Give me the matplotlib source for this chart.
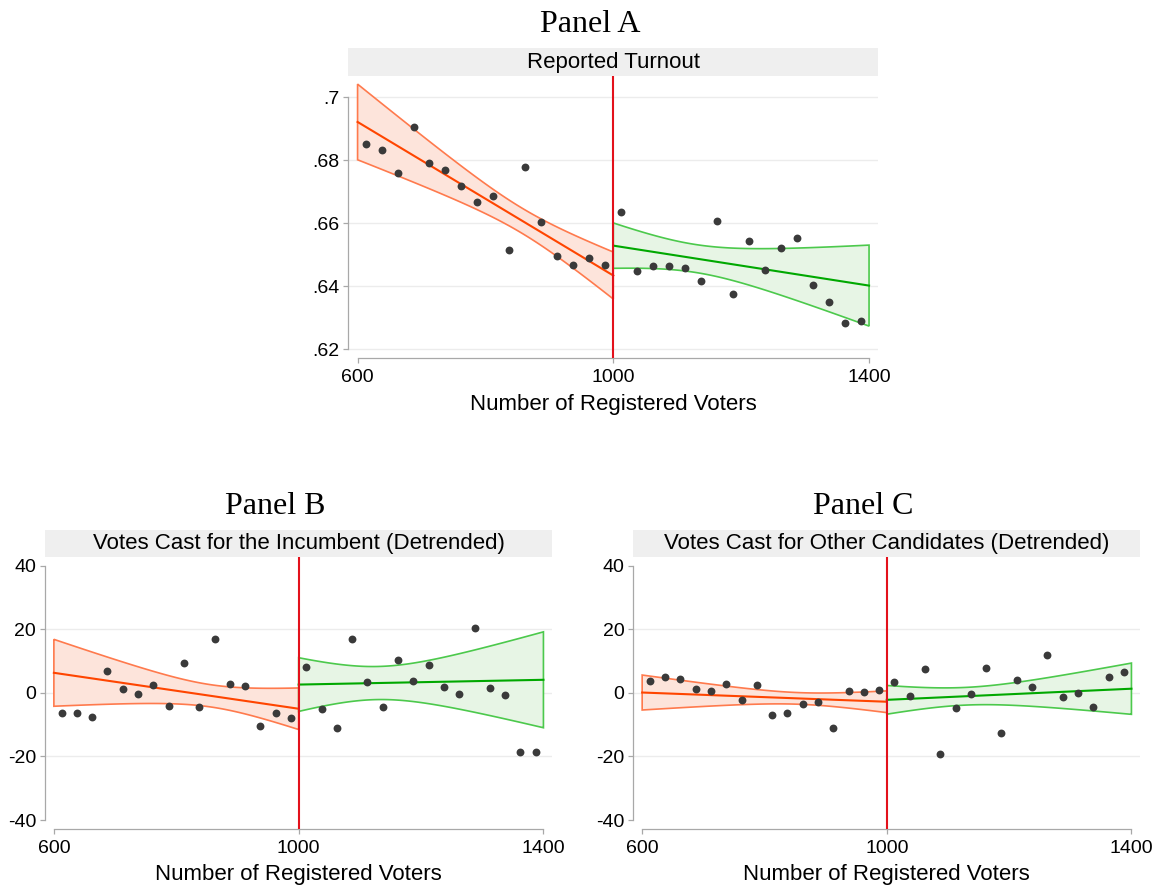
import numpy as np
import matplotlib
matplotlib.use("Agg")
import matplotlib.pyplot as plt
from matplotlib.patches import Polygon

# ---- binned means (bins of 25 registered voters) ----
bins_below = [612.5, 637.5, 662.5, 687.5, 712.5, 737.5, 762.5, 787.5,
              812.5, 837.5, 862.5, 887.5, 912.5, 937.5, 962.5, 987.5]
bins_above = [1012.5, 1037.5, 1062.5, 1087.5, 1112.5, 1137.5, 1162.5, 1187.5,
              1212.5, 1237.5, 1262.5, 1287.5, 1312.5, 1337.5, 1362.5, 1387.5]

turnout_below = [0.6851, 0.6833, 0.6761, 0.6905, 0.6790, 0.6770, 0.6718, 0.6668,
                 0.6688, 0.6516, 0.6779, 0.6605, 0.6497, 0.6466, 0.6491, 0.6469]
turnout_above = [0.6637, 0.6449, 0.6465, 0.6465, 0.6458, 0.6418, 0.6606, 0.6374,
                 0.6544, 0.6450, 0.6522, 0.6554, 0.6403, 0.6350, 0.6283, 0.6290]

incumbent_below = [-6.2, -6.2, -7.7, 6.8, 1.3, -0.4, 2.6, -4.0,
                   9.4, -4.6, 16.9, 2.8, 2.1, -10.3, -6.2, -7.8]
incumbent_above = [8.1, -5.1, -10.9, 16.8, 3.3, -4.4, 10.3, 3.6,
                   8.8, 1.8, -0.4, 20.3, 1.5, -0.8, -18.5, -18.6]

other_below = [3.8, 5.1, 4.2, 1.3, 0.7, 2.9, -2.4, 2.6,
               -7.1, -6.3, -3.6, -3.0, -10.9, 0.7, 0.3, 0.9]
other_above = [3.3, -1.1, 7.4, -19.3, -4.9, -0.5, 7.7, -12.5,
               3.9, 1.7, 11.9, -1.4, -0.2, -4.6, 5.1, 6.4]

# ---- linear fits on each side of the cutoff: value at the two ends ----
cutoff = 1000
side_ranges = [(600, 1000), (1000, 1400)]
turnout_fit = [(0.6922, 0.6434), (0.6529, 0.6402)]
incumbent_fit = [(6.3, -5.0), (2.6, 4.1)]
other_fit = [(0.1, -2.8), (-2.2, 1.3)]

# 95% confidence band: smallest half-width, plus where it sits and how fast it widens
turnout_ci_min = [0.0040, 0.00444]
incumbent_ci_min = [3.5, 5.2]
other_ci_min = [1.83, 2.78]
ci_center = [857, 1128]
ci_scale = [90.7, 100.0]

panel_titles = ["Panel A", "Panel B", "Panel C"]
strip_titles = ["Reported Turnout",
                "Votes Cast for the Incumbent (Detrended)",
                "Votes Cast for Other Candidates (Detrended)"]
x_ticks = [600, 1000, 1400]
x_label = "Number of Registered Voters"
turnout_ticks = [0.62, 0.64, 0.66, 0.68, 0.70]
turnout_ticklabels = [".62", ".64", ".66", ".68", ".7"]
votes_ticks = [-40, -20, 0, 20, 40]
votes_ticklabels = ["-40", "-20", "0", "20", "40"]

SANS = "Liberation Sans"
SERIF = "Liberation Serif"
AXIS_GREY = "#a8a8a8"
GRID = "#ececec"
DOT = "#3a3a3a"
SIDE_STYLE = [
    dict(line="#ff4500", edge="#ff7a4d", fill="#fde4db"),
    dict(line="#00a800", edge="#4cc94c", fill="#e7f5e5"),
]

W, H = 1159, 886
fig = plt.figure(figsize=(W / 100, H / 100), dpi=100)
fig.patch.set_facecolor("white")


def px_axes(left, top, right, bottom):
    return [left / W, 1 - bottom / H, (right - left) / W, (bottom - top) / H]


def draw_panel(box, strip_box, title_xy, title, strip, ylim, yticks, yticklabels,
               grid_ticks, below, above, fits, ci_min):
    ax = fig.add_axes(px_axes(*box))
    ax.set_xlim(585.5, 1414)
    ax.set_ylim(*ylim)

    for gy in grid_ticks:
        ax.axhline(gy, color=GRID, lw=1.0, zorder=0)

    for side, (lo, hi) in enumerate(side_ranges):
        st = SIDE_STYLE[side]
        xs = np.linspace(lo, hi, 200)
        f0, f1 = fits[side]
        yhat = f0 + (f1 - f0) * (xs - lo) / (hi - lo)
        half = ci_min[side] * np.sqrt(1 + ((xs - ci_center[side]) / ci_scale[side]) ** 2)
        upper = yhat + half
        lower = yhat - half
        verts = np.column_stack([np.concatenate([xs, xs[::-1]]),
                                 np.concatenate([upper, lower[::-1]])])
        ax.add_patch(Polygon(verts, closed=True, facecolor=st["fill"],
                             edgecolor=st["edge"], lw=1.2, zorder=2))
        ax.plot(xs, yhat, color=st["line"], lw=1.5, zorder=3)

    ax.scatter(bins_below, below, s=32, color=DOT, zorder=4, linewidths=0)
    ax.scatter(bins_above, above, s=32, color=DOT, zorder=4, linewidths=0)
    ax.axvline(cutoff, color="#e3111b", lw=1.5, zorder=5)

    for s in ["top", "right"]:
        ax.spines[s].set_visible(False)
    for s in ["left", "bottom"]:
        ax.spines[s].set_color(AXIS_GREY)
        ax.spines[s].set_linewidth(0.9)
    ax.spines["left"].set_bounds(yticks[0], yticks[-1])
    ax.spines["bottom"].set_bounds(x_ticks[0], x_ticks[-1])

    ax.set_xticks(x_ticks)
    ax.set_xticklabels([str(t) for t in x_ticks])
    ax.set_yticks(yticks)
    ax.set_yticklabels(yticklabels)
    ax.tick_params(axis="both", colors=AXIS_GREY, length=3.6, width=0.9,
                   labelcolor="black", labelsize=14)
    ax.tick_params(axis="x", pad=4.2)
    ax.tick_params(axis="y", pad=2.8)
    for lab in ax.get_xticklabels() + ax.get_yticklabels():
        lab.set_fontfamily(SANS)
    ax.set_xlabel(x_label, fontsize=16, family=SANS, labelpad=5.5)

    sax = fig.add_axes(px_axes(*strip_box))
    sax.set_facecolor("#efefef")
    sax.set_xticks([])
    sax.set_yticks([])
    for s in sax.spines.values():
        s.set_visible(False)
    sax.text(0.5, 0.5, strip, ha="center", va="center", fontsize=16,
             family=SANS, transform=sax.transAxes)

    fig.text(title_xy[0] / W, 1 - title_xy[1] / H, title, ha="center",
             va="baseline", fontsize=23, family=SERIF)


draw_panel((348.3, 76, 878, 358.3), (348.3, 48.3, 878, 76), (590, 31.7),
           panel_titles[0], strip_titles[0], (0.6171, 0.7068),
           turnout_ticks, turnout_ticklabels, turnout_ticks,
           turnout_below, turnout_above, turnout_fit, turnout_ci_min)

draw_panel((45, 557, 552, 829), (45, 530, 552, 556.7), (275, 514.3),
           panel_titles[1], strip_titles[1], (-42.8, 42.7),
           votes_ticks, votes_ticklabels, votes_ticks[1:-1],
           incumbent_below, incumbent_above, incumbent_fit, incumbent_ci_min)

draw_panel((633.3, 557, 1140, 829), (633.3, 530, 1140, 556.7), (863, 514.3),
           panel_titles[2], strip_titles[2], (-42.8, 42.7),
           votes_ticks, votes_ticklabels, votes_ticks[1:-1],
           other_below, other_above, other_fit, other_ci_min)

fig.savefig("out.png", dpi=100, facecolor="white")
